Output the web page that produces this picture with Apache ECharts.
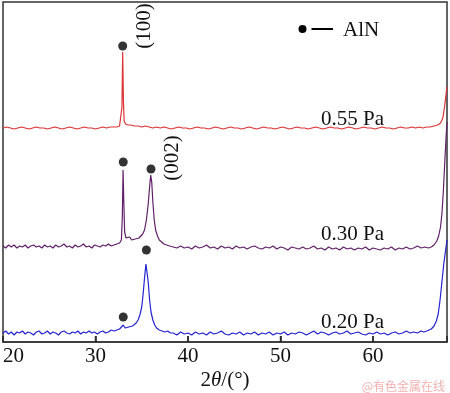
<!DOCTYPE html>
<html>
<head>
<meta charset="utf-8">
<script src="https://cdn.jsdelivr.net/npm/echarts@6/dist/echarts.min.js"></script>
<style>html,body{margin:0;padding:0;background:#fff;}#c{width:450px;height:393px;}</style>
</head>
<body>
<div id="c"></div>
<script>
// x ticks
var xTicks = [20, 30, 40, 50, 60];
// intensity (arbitrary units, stacked offsets) vs 2theta
var pa055 = [[20,214],[20.4,215],[20.8,214],[21.2,213],[21.6,214],[22,215],[22.4,214],[22.8,213],[23.2,214],[23.6,215],[24,214],[24.4,214],[24.8,213],[25.2,214],[25.6,215],[26,214],[26.4,213],[26.8,214],[27.2,215],[27.6,214],[28,213],[28.4,214],[28.8,215],[29.2,214],[29.6,214],[30,213],[30.4,214],[30.8,215],[31.2,214],[31.6,215],[32,215],[32.3,215],[32.6,216],[32.78,218],[32.86,235],[32.94,290],[33.02,240],[33.1,221],[33.25,218],[33.5,217],[33.8,217],[34.2,216],[34.6,216],[35,215],[35.4,216],[35.8,215],[36.2,214],[36.6,215],[37,214],[37.4,215],[37.8,214],[38.2,213],[38.6,214],[39,215],[39.4,214],[39.8,214],[40.2,213],[40.6,214],[41,215],[41.4,214],[41.8,214],[42.2,213],[42.6,214],[43,215],[43.4,214],[43.8,213],[44.2,214],[44.6,215],[45,214],[45.4,214],[45.8,213],[46.2,214],[46.6,215],[47,214],[47.4,213],[47.8,214],[48.2,215],[48.6,214],[49,214],[49.4,213],[49.8,214],[50.2,215],[50.6,214],[51,213],[51.4,214],[51.8,215],[52.2,214],[52.6,214],[53,213],[53.4,214],[53.8,215],[54.2,214],[54.6,213],[55,214],[55.4,215],[55.8,214],[56.2,214],[56.6,213],[57,214],[57.4,215],[57.8,214],[58.2,213],[58.6,214],[59,215],[59.4,214],[59.8,214],[60.2,213],[60.6,214],[61,215],[61.4,214],[61.8,214],[62.2,213],[62.6,214],[63,215],[63.4,214],[63.8,214],[64.2,215],[64.6,214],[65,215],[65.4,214],[65.8,215],[66.2,215],[66.6,216],[67,217],[67.3,219],[67.55,224],[67.75,236],[67.9,248],[68,255]];
var pa030 = [[20,96],[20.3,94],[20.6,97],[20.9,95],[21.2,97],[21.5,94],[21.8,96],[22.1,95],[22.4,97],[22.7,94],[23,96],[23.3,97],[23.6,95],[23.9,96],[24.2,94],[24.5,97],[24.8,95],[25.1,96],[25.4,94],[25.7,97],[26,95],[26.3,96],[26.6,98],[26.9,95],[27.2,96],[27.5,94],[27.8,97],[28.1,95],[28.4,96],[28.7,98],[29,95],[29.3,96],[29.6,94],[29.9,97],[30.2,96],[30.5,95],[30.8,97],[31.1,96],[31.4,98],[31.7,96],[32,97],[32.3,98],[32.6,99],[32.8,102],[32.9,125],[32.98,172],[33.06,140],[33.15,110],[33.3,104],[33.5,103],[33.7,105],[33.9,102],[34.1,104],[34.3,103],[34.5,105],[34.7,104],[34.9,106],[35.1,108],[35.3,112],[35.5,122],[35.7,138],[35.85,155],[35.97,167],[36.08,160],[36.2,140],[36.35,122],[36.5,112],[36.7,106],[36.9,102],[37.1,100],[37.4,98],[37.7,97],[38,96],[38.4,95],[38.8,94],[39.2,96],[39.6,94],[40,95],[40.4,93],[40.8,96],[41.2,94],[41.6,95],[42,97],[42.4,94],[42.8,95],[43.2,93],[43.6,96],[44,94],[44.4,95],[44.8,93],[45.2,96],[45.6,94],[46,95],[46.4,93],[46.8,95],[47.2,96],[47.6,94],[48,93],[48.4,95],[48.8,94],[49.2,96],[49.6,93],[50,95],[50.4,94],[50.8,92],[51.2,95],[51.6,94],[52,93],[52.4,95],[52.8,93],[53.2,94],[53.6,96],[54,93],[54.4,94],[54.8,92],[55.2,95],[55.6,93],[56,94],[56.4,92],[56.8,95],[57.2,93],[57.6,94],[58,92],[58.4,94],[58.8,93],[59.2,95],[59.6,92],[60,94],[60.4,93],[60.8,92],[61.2,94],[61.6,93],[62,95],[62.4,92],[62.8,94],[63.2,93],[63.6,95],[64,93],[64.4,94],[64.8,96],[65.2,94],[65.6,95],[66,94],[66.3,95],[66.6,97],[66.9,101],[67.1,106],[67.3,115],[67.45,128],[67.6,150],[67.75,178],[67.9,205],[68,220]];
var pa020 = [[20,9],[20.3,11],[20.6,8],[20.9,10],[21.2,7],[21.5,10],[21.8,9],[22.1,11],[22.4,8],[22.7,10],[23,9],[23.3,7],[23.6,10],[23.9,11],[24.2,8],[24.5,9],[24.8,11],[25.1,8],[25.4,10],[25.7,9],[26,7],[26.3,10],[26.6,11],[26.9,9],[27.2,8],[27.5,10],[27.8,9],[28.1,11],[28.4,8],[28.7,10],[29,9],[29.3,11],[29.6,9],[29.9,10],[30.2,8],[30.5,10],[30.8,11],[31.1,9],[31.4,10],[31.7,12],[32,11],[32.3,12],[32.6,13],[32.8,15],[33,17],[33.2,14],[33.4,13],[33.6,15],[33.8,14],[34,16],[34.2,17],[34.4,19],[34.6,22],[34.8,27],[35,35],[35.15,48],[35.3,64],[35.45,78],[35.55,76],[35.7,60],[35.85,42],[36,30],[36.2,22],[36.4,17],[36.6,14],[36.9,12],[37.2,11],[37.5,10],[37.8,11],[38.1,9],[38.4,9],[38.8,7],[39.2,10],[39.6,8],[40,9],[40.4,7],[40.8,10],[41.2,8],[41.6,9],[42,7],[42.4,10],[42.8,8],[43.2,9],[43.6,11],[44,8],[44.4,7],[44.8,9],[45.2,8],[45.6,10],[46,7],[46.4,9],[46.8,8],[47.2,10],[47.6,7],[48,9],[48.4,8],[48.8,10],[49.2,7],[49.6,9],[50,8],[50.4,10],[50.8,7],[51.2,9],[51.6,8],[52,10],[52.4,9],[52.8,7],[53.2,9],[53.6,11],[54,8],[54.4,10],[54.8,9],[55.2,7],[55.6,9],[56,10],[56.4,8],[56.8,9],[57.2,11],[57.6,8],[58,9],[58.4,10],[58.8,8],[59.2,7],[59.6,9],[60,8],[60.4,10],[60.8,8],[61.2,9],[61.6,7],[62,9],[62.4,10],[62.8,8],[63.2,9],[63.6,11],[64,9],[64.4,10],[64.8,9],[65.2,11],[65.5,10],[65.8,11],[66,12],[66.3,13],[66.6,16],[66.85,21],[67.05,28],[67.25,42],[67.45,60],[67.65,78],[67.85,92],[68,102]];
// AlN peak markers
var alnMarks = [[32.94,296],[33.0,180],[36.0,173],[33.0,25],[35.5,92]];

var SERIF = 'Liberation Serif';
var chart = echarts.init(document.getElementById('c'), null, {renderer:'canvas'});
chart.setOption({
  animation: false,
  backgroundColor: '#fff',
  grid: {left: 3, right: 2, top: 2, bottom: 51, show: true, borderColor: '#333', borderWidth: 1.5, backgroundColor: 'transparent'},
  xAxis: {
    type: 'value', min: 20, max: 68, interval: 10,
    axisLine: {show: true, onZero: false, lineStyle: {color: '#333', width: 1.5}},
    axisTick: {show: true, inside: true, length: 6, lineStyle: {color: '#222', width: 1.5}},
    splitLine: {show: false},
    axisLabel: {
      margin: 4, fontFamily: SERIF, fontSize: 21, color: '#111',
      showMaxLabel: true, alignMinLabel: 'left',
      formatter: function (v) { return xTicks.indexOf(v) >= 0 ? String(v) : ''; }
    }
  },
  yAxis: {type: 'value', min: 0, max: 340, show: false, splitLine: {show: false}},
  series: [
    {type: 'line', data: pa055, showSymbol: false, symbol: 'none', lineStyle: {color: '#dc3434', width: 1.2}, z: 2},
    {type: 'line', data: pa030, showSymbol: false, symbol: 'none', lineStyle: {color: '#62206a', width: 1.2}, z: 2},
    {type: 'line', data: pa020, showSymbol: false, symbol: 'none', lineStyle: {color: '#2424d0', width: 1.2}, z: 2},
    {type: 'scatter', data: alnMarks, symbol: 'circle', symbolSize: 9, itemStyle: {color: '#000'}, z: 5},
    {type: 'scatter', data: xTicks.slice(1).map(function (t) { return [t, 0]; }), symbol: 'rect', symbolSize: [1.5, 6], symbolOffset: [0, -3], itemStyle: {color: '#222'}, silent: true, z: 6}
  ],
  graphic: [
    {type: 'circle', shape: {cx: 302.5, cy: 29, r: 4}, style: {fill: '#000'}},
    {type: 'line', shape: {x1: 311.5, y1: 29, x2: 333, y2: 29}, style: {stroke: '#000', lineWidth: 2}},
    {type: 'text', x: 343, y: 30, style: {text: 'AlN', font: '21px "Liberation Serif"', fill: '#111', textVerticalAlign: 'middle'}},
    {type: 'text', x: 321, y: 119, style: {text: '0.55 Pa', font: '21px "Liberation Serif"', fill: '#111', textVerticalAlign: 'middle'}},
    {type: 'text', x: 321, y: 234, style: {text: '0.30 Pa', font: '21px "Liberation Serif"', fill: '#111', textVerticalAlign: 'middle'}},
    {type: 'text', x: 321, y: 322, style: {text: '0.20 Pa', font: '21px "Liberation Serif"', fill: '#111', textVerticalAlign: 'middle'}},
    {type: 'text', x: 144, y: 26, rotation: Math.PI / 2, style: {text: '(100)', font: '21px "Liberation Serif"', fill: '#111', textAlign: 'center', textVerticalAlign: 'middle'}},
    {type: 'text', x: 172, y: 158, rotation: Math.PI / 2, style: {text: '(002)', font: '21px "Liberation Serif"', fill: '#111', textAlign: 'center', textVerticalAlign: 'middle'}},
    {type: 'text', x: 225, y: 380, style: {
      text: '{a|2}{i|θ}{a|/(°)}', textAlign: 'center', textVerticalAlign: 'middle',
      rich: {a: {fontFamily: SERIF, fontSize: 21, fill: '#111'}, i: {fontFamily: SERIF, fontSize: 21, fontStyle: 'italic', fill: '#111'}}
    }},
    {type: 'text', x: 445, y: 386, style: {text: '@有色金属在线', font: '12px "Noto Sans CJK SC"', fill: '#f2b0b0', textAlign: 'right', textVerticalAlign: 'middle'}}
  ]
});
</script>
</body>
</html>
